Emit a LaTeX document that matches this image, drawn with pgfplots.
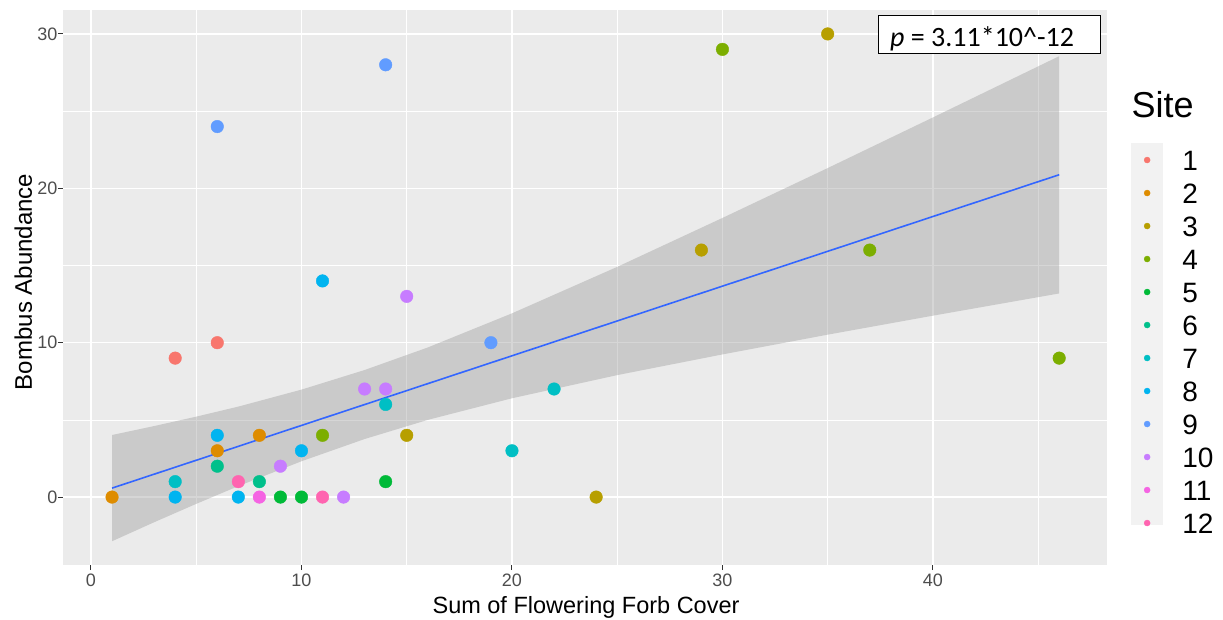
\documentclass[border=0pt]{standalone}
\usepackage{pgfplots}
\pgfplotsset{compat=1.18}
\usepackage{fontspec}
\setmainfont{Liberation Sans}
\newfontfamily\calib{Carlito}
\definecolor{c1}{HTML}{F8766D}
\definecolor{c2}{HTML}{DE8C00}
\definecolor{c3}{HTML}{B79F00}
\definecolor{c4}{HTML}{7CAE00}
\definecolor{c5}{HTML}{00BA38}
\definecolor{c6}{HTML}{00C08B}
\definecolor{c7}{HTML}{00BFC4}
\definecolor{c8}{HTML}{00B4F0}
\definecolor{c9}{HTML}{619CFF}
\definecolor{c10}{HTML}{C77CFF}
\definecolor{c11}{HTML}{F564E3}
\definecolor{c12}{HTML}{FF64B0}
\definecolor{panelbg}{HTML}{EBEBEB}
\definecolor{ribbon}{HTML}{999999}
\definecolor{fitline}{HTML}{3366FF}
\definecolor{tickgray}{HTML}{4D4D4D}
\definecolor{tickmark}{HTML}{333333}
\definecolor{keybg}{HTML}{F2F2F2}
\begin{document}
\begin{tikzpicture}
\begin{axis}[
  scale only axis, width=1044pt, height=555pt,
  xmin=-1.33, xmax=48.27, ymin=-4.4, ymax=31.55,
  clip=false,
  axis background/.style={fill=panelbg},
  axis line style={draw=none},
  xtick={0,10,20,30,40}, ytick={0,10,20,30},
  minor xtick={5,15,25,35,45}, minor ytick={5,15,25},
  grid=both,
  major grid style={white, line width=1.4pt},
  minor grid style={white, line width=0.7pt},
  tick pos=left, tick align=outside,
  major tick length=5pt, minor tick length=0pt,
  tick style={tickmark, line width=1pt},
  /pgf/number format/assume math mode=true,
  ticklabel style={font=\fontsize{18}{18}\selectfont, text=tickgray},
  yticklabel style={xshift=3pt},
  xlabel={Sum of Flowering Forb Cover},
  ylabel={Bombus Abundance},
  xlabel style={font=\fontsize{23.5}{23.5}\selectfont, at={(axis description cs:0.501,-0.0865)}, anchor=base},
  ylabel style={font=\fontsize{24}{24}\selectfont, at={(axis description cs:-0.0297,0.51)}, anchor=base},
  legend entries={1,2,3,4,5,6,7,8,9,10,11,12},
  legend cell align=left,
  legend image code/.code={\fill[#1] (3pt,0pt) circle (3pt);},
  legend style={at={(axis description cs:1.0354,0.7477)}, anchor=north west,
    draw=none, fill=none, inner sep=0pt, outer sep=0pt, row sep=13pt,
    font=\fontsize{28}{28}\selectfont,
    nodes={inner sep=0pt, text height=20pt, text depth=0pt},
    /tikz/every odd column/.append style={column sep=32pt}},
]
\fill[keybg] (axis description cs:1.0230,0.0721) rectangle (axis description cs:1.0536,0.7604);
\node[anchor=base west, font=\fontsize{36}{36}\selectfont] at (axis description cs:1.0201,0.8054) {Site};

\addplot[only marks, mark=*, mark size=6.3pt, color=c1, mark options={draw=none, fill=c1}] coordinates {(4,9) (6,10)};
\addplot[only marks, mark=*, mark size=6.3pt, color=c2, mark options={draw=none, fill=c2}] coordinates {(1,0) (6,3) (8,4)};
\addplot[only marks, mark=*, mark size=6.3pt, color=c3, mark options={draw=none, fill=c3}] coordinates {(15,4) (24,0) (29,16) (35,30)};
\addplot[only marks, mark=*, mark size=6.3pt, color=c4, mark options={draw=none, fill=c4}] coordinates {(11,4) (30,29) (37,16) (46,9)};
\addplot[only marks, mark=*, mark size=6.3pt, color=c5, mark options={draw=none, fill=c5}] coordinates {(9,0) (10,0) (14,1)};
\addplot[only marks, mark=*, mark size=6.3pt, color=c6, mark options={draw=none, fill=c6}] coordinates {(6,2) (8,1)};
\addplot[only marks, mark=*, mark size=6.3pt, color=c7, mark options={draw=none, fill=c7}] coordinates {(4,1) (14,6) (20,3) (22,7)};
\addplot[only marks, mark=*, mark size=6.3pt, color=c8, mark options={draw=none, fill=c8}] coordinates {(4,0) (6,4) (7,0) (10,3) (11,14)};
\addplot[only marks, mark=*, mark size=6.3pt, color=c9, mark options={draw=none, fill=c9}] coordinates {(6,24) (14,28) (19,10)};
\addplot[only marks, mark=*, mark size=6.3pt, color=c10, mark options={draw=none, fill=c10}] coordinates {(9,2) (12,0) (13,7) (14,7) (15,13)};
\addplot[only marks, mark=*, mark size=6.3pt, color=c11, mark options={draw=none, fill=c11}] coordinates {(8,0)};
\addplot[only marks, mark=*, mark size=6.3pt, color=c12, mark options={draw=none, fill=c12}] coordinates {(7,1) (11,0)};

\addplot[forget plot, draw=none, fill=ribbon, fill opacity=0.4] coordinates {
 (1,4.02) (3,4.60) (5,5.21) (7,5.86) (10,6.96) (13,8.23) (16,9.69) (20,11.90) (25,14.91) (30,18.08) (35,21.31) (40,24.59) (46,28.56)
 (46,13.19) (40,11.75) (35,10.52) (30,9.24) (25,7.90) (20,6.40) (16,5.00) (13,3.76) (10,2.32) (7,0.71) (5,-0.44) (3,-1.63) (1,-2.86)} -- cycle;
\addplot[forget plot, fitline, line width=1.6pt] coordinates {(1,0.58) (46,20.88)};

\node[draw=black, fill=white, line width=1pt, minimum width=222pt, minimum height=38pt, anchor=north west, inner sep=0pt] at (axis cs:37.39,31.24) {};
\node[anchor=base west, inner sep=0pt, font=\calib\fontsize{28}{28}\selectfont] at (axis cs:37.96,29.16) {\textit{p} = 3.11*10\textasciicircum-12};
\end{axis}
\pgfresetboundingbox
\path[use as bounding box] (current axis.south west) ++(-63pt,-54pt) rectangle ++(1223pt,619pt);
\end{tikzpicture}
\end{document}
